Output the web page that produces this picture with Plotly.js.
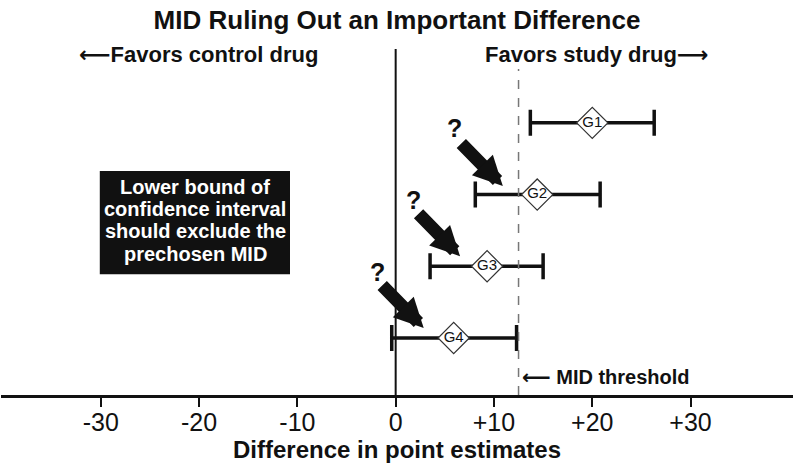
<!DOCTYPE html>
<html>
<head>
<meta charset="utf-8">
<script src="https://cdn.plot.ly/plotly-3.0.1.min.js"></script>
<style>
  html, body { margin: 0; padding: 0; background: #ffffff; }
  #chart { width: 797px; height: 467px; }
</style>
</head>
<body>
<div id="chart"></div>
<script>
// ---- data ----
const groups = ['G1', 'G2', 'G3', 'G4'];
const rowPos = [4, 3, 2, 1];
const estimates = [20.0, 14.4, 9.3, 5.9];
const lowerCI = [13.7, 8.1, 3.5, -0.4];
const upperCI = [26.3, 20.8, 15.0, 12.3];
const midThreshold = 12.5;
const tickValues = [-30, -20, -10, 0, 10, 20, 30];
const tickLabels = ['-30', '-20', '-10', '0', '+10', '+20', '+30'];
const boxLines = ['Lower bound of', 'confidence interval', 'should exclude the', 'prechosen MID'];

const FONT = 'Liberation Sans, Arial, Helvetica, sans-serif';
const ARROWFONT = 'DejaVu Sans';
const LARR = '<span style="font-family:' + ARROWFONT + '">\u27F5</span>';
const RARR = '<span style="font-family:' + ARROWFONT + '">\u27F6</span>';

const plusErr = estimates.map((e, i) => upperCI[i] - e);
const minusErr = estimates.map((e, i) => e - lowerCI[i]);

const trace = {
  type: 'scatter',
  mode: 'markers+text',
  x: estimates,
  y: rowPos,
  text: groups,
  textposition: 'middle center',
  textfont: { family: FONT, size: 15, color: '#111111' },
  marker: { symbol: 'diamond', size: 24, color: '#ffffff', line: { color: '#333333', width: 1.2 } },
  error_x: {
    type: 'data', symmetric: false,
    array: plusErr, arrayminus: minusErr,
    color: '#111111', thickness: 3.5, width: 13
  },
  cliponaxis: false,
  hoverinfo: 'skip',
  showlegend: false
};

// arrows pointing at the lower bounds of G2..G4
const arrowTips = [
  { x: 10.9, y: 3.12, qx: 6.0, qy: 3.93 },
  { x: 6.55, y: 2.14, qx: 1.8, qy: 2.92 },
  { x: 2.85, y: 1.14, qx: -1.9, qy: 1.92 }
];

const annotations = [];
arrowTips.forEach(a => {
  annotations.push({
    x: a.x, y: a.y, xref: 'x', yref: 'y',
    text: ' ', font: { size: 1 },
    showarrow: true, ax: -43, ay: -44,
    arrowhead: 2, arrowsize: 0.45, arrowwidth: 13, arrowcolor: '#111111',
    standoff: 0, startstandoff: 0
  });
  annotations.push({
    x: a.qx, y: a.qy, xref: 'x', yref: 'y',
    text: '<b>?</b>', showarrow: false,
    font: { family: FONT, size: 25, color: '#111111' },
    xanchor: 'center', yanchor: 'middle'
  });
});

annotations.push({
  x: -20.1, y: 4.95, xref: 'x', yref: 'y',
  text: '<b>' + LARR + 'Favors control drug</b>', showarrow: false,
  font: { family: FONT, size: 22, color: '#111111' },
  xanchor: 'center', yanchor: 'middle'
});
annotations.push({
  x: 20.4, y: 4.95, xref: 'x', yref: 'y',
  text: '<b>Favors study drug' + RARR + '</b>', showarrow: false,
  font: { family: FONT, size: 22, color: '#111111' },
  xanchor: 'center', yanchor: 'middle'
});
annotations.push({
  x: 21.4, y: 0.46, xref: 'x', yref: 'y',
  text: '<b>' + LARR + ' MID threshold</b>', showarrow: false,
  font: { family: FONT, size: 20, color: '#111111' },
  xanchor: 'center', yanchor: 'middle'
});

const boxLineY = [3.11, 2.80, 2.49, 2.17];
boxLines.forEach((t, i) => {
  annotations.push({
    x: -20.4, y: boxLineY[i], xref: 'x', yref: 'y',
    text: '<b>' + t + '</b>', showarrow: false,
    font: { family: FONT, size: 20, color: '#ffffff' },
    xanchor: 'center', yanchor: 'middle'
  });
});

const shapes = [
  // black text box
  { type: 'rect', xref: 'x', yref: 'y', x0: -30.1, x1: -10.75, y0: 1.89, y1: 3.33,
    fillcolor: '#111111', line: { width: 0 }, layer: 'below' },
  // zero line
  { type: 'line', xref: 'x', yref: 'paper', x0: 0, x1: 0, y0: 0, y1: 1,
    line: { color: '#111111', width: 2 } },
  // MID threshold dashed line
  { type: 'line', xref: 'x', yref: 'y', x0: midThreshold, x1: midThreshold, y0: 0.205, y1: 4.75,
    line: { color: '#777777', width: 1.5, dash: 'dash' } }
];

const layout = {
  width: 797, height: 467,
  margin: { l: 1, r: 4, t: 49, b: 72, pad: 0 },
  paper_bgcolor: '#ffffff', plot_bgcolor: '#ffffff',
  title: {
    text: '<b>MID Ruling Out an Important Difference</b>',
    font: { family: FONT, size: 26, color: '#111111' },
    x: 0.5, xanchor: 'center', xref: 'paper',
    y: 1 - 20 / 467, yanchor: 'middle', yref: 'container'
  },
  xaxis: {
    range: [-40.15, 40.42],
    tickvals: tickValues, ticktext: tickLabels,
    tickfont: { family: FONT, size: 25, color: '#111111' },
    ticks: 'outside', ticklen: 9, tickwidth: 2, tickcolor: '#111111',
    ticklabelstandoff: -6,
    showline: true, linecolor: '#111111', linewidth: 3,
    showgrid: false, zeroline: false, fixedrange: true,
    title: { text: '<b>Difference in point estimates</b>', standoff: 6,
             font: { family: FONT, size: 24, color: '#111111' } }
  },
  yaxis: {
    range: [0.205, 5.03],
    showticklabels: false, ticks: '', showgrid: false, zeroline: false, showline: false,
    fixedrange: true
  },
  shapes: shapes,
  annotations: annotations,
  showlegend: false
};

Plotly.newPlot('chart', [trace], layout, { displayModeBar: false, staticPlot: true });
</script>
</body>
</html>
